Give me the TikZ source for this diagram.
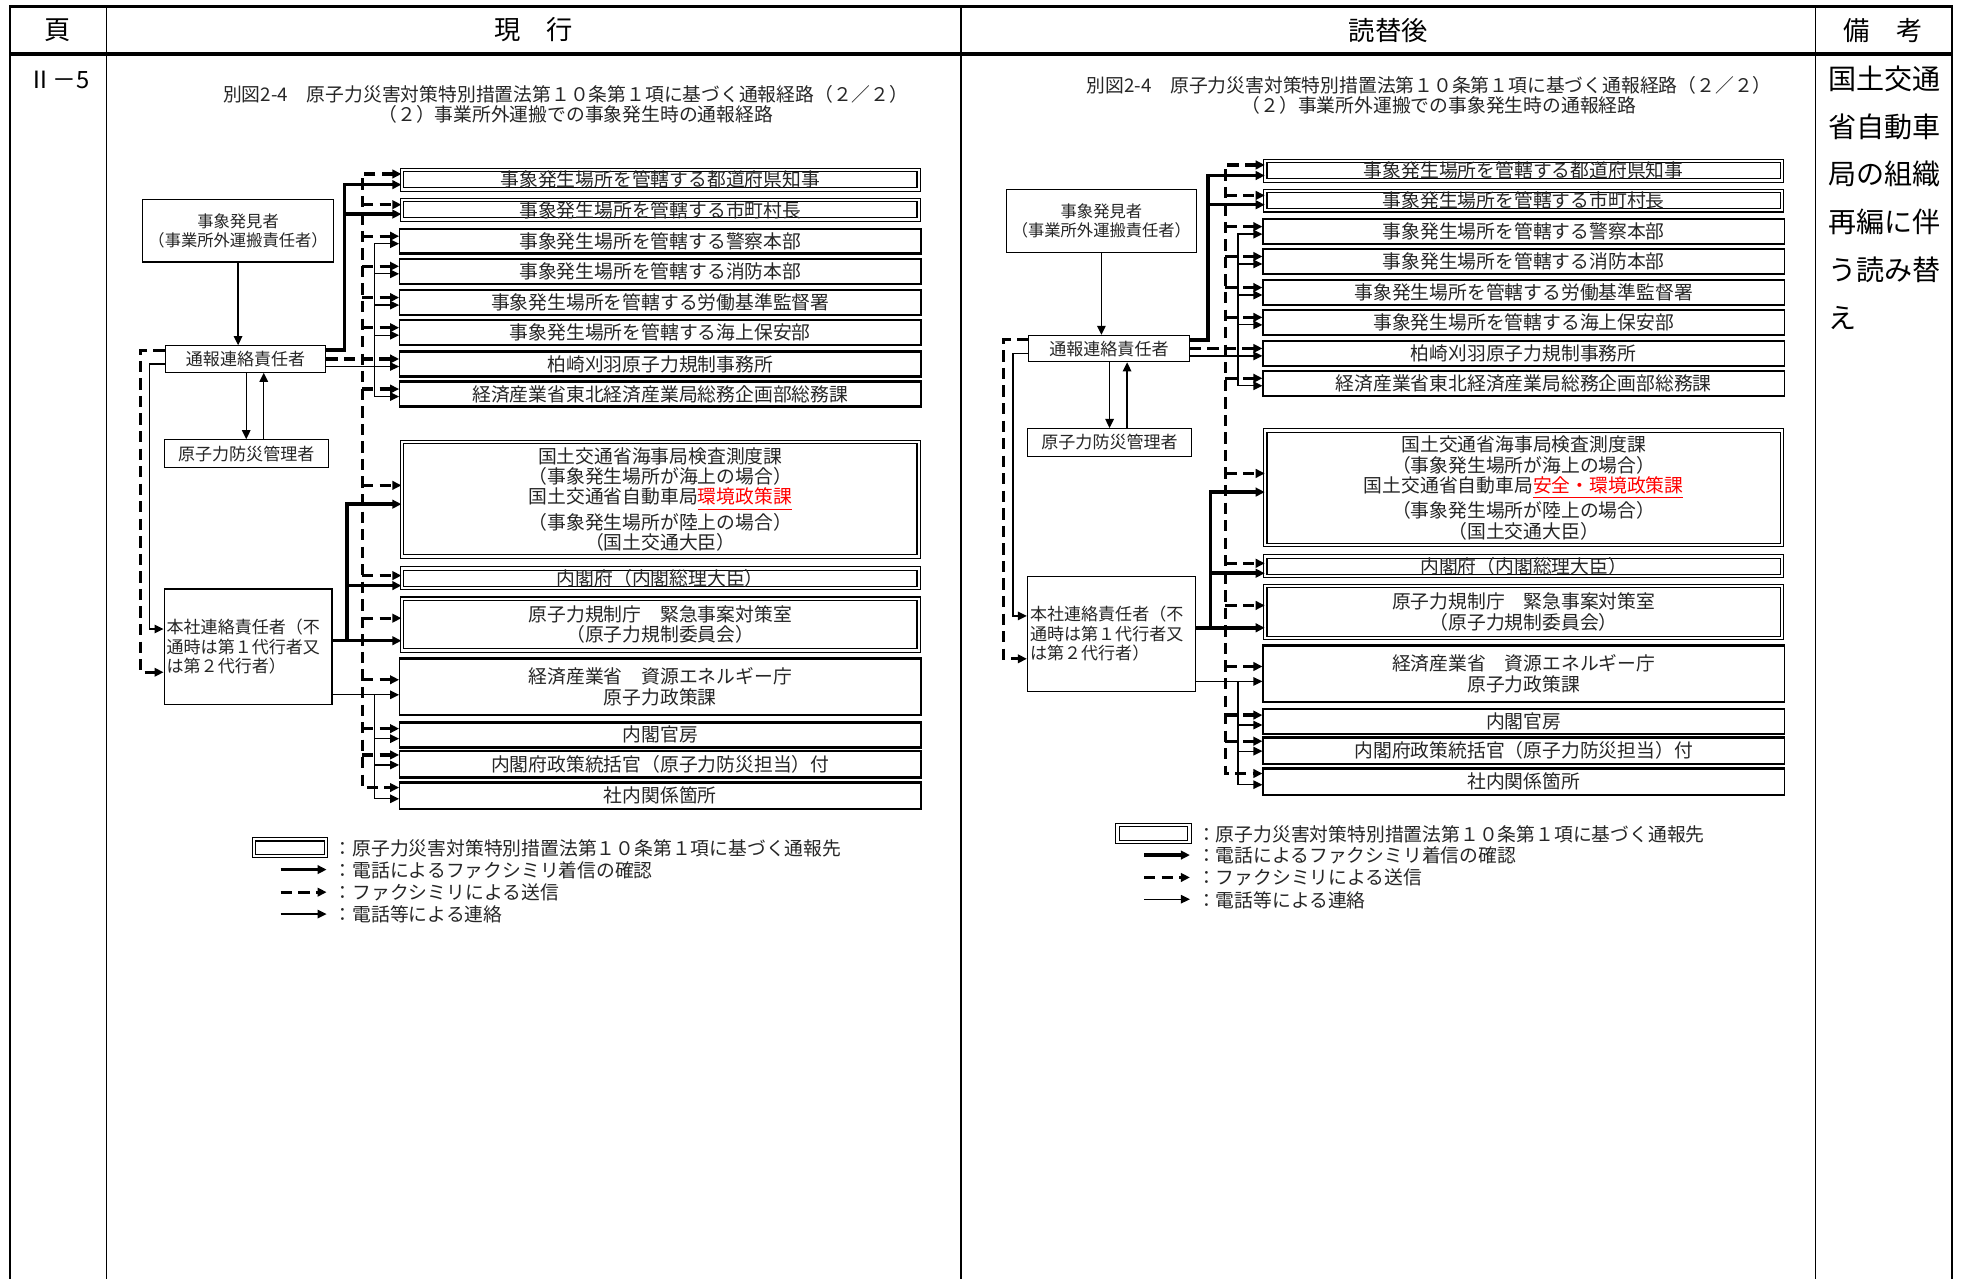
\documentclass[tikz,border=0pt]{standalone}
\usepackage{fontspec}
\newfontfamily\jpf{Noto Sans CJK JP}
\usetikzlibrary{arrows.meta,calc}
\newcommand{\unitD}{0.5pt}
\tikzset{
  >={Triangle[length=3.6pt,width=3.4pt]},
  bxfont/.style={font=\jpf\fontsize{7.5pt}{8.15pt}\selectfont},
  sbox/.style={draw, line width=0.5pt, minimum width=416*\unitD, inner sep=0pt, align=center, text=black!85, bxfont},
  dbox/.style={draw, double, double distance=0.9pt, line width=0.45pt, minimum width=412.4*\unitD, inner sep=0pt, align=center, text=black!85, bxfont},
  lbox/.style={draw, line width=0.5pt, inner sep=0pt, align=center, text=black!85, font=\jpf\fontsize{6.8pt}{7.75pt}\selectfont},
  ttl/.style={inner sep=0pt, text=black!85, font=\jpf\fontsize{7.5pt}{8pt}\selectfont},
  lgtext/.style={inner sep=0pt, anchor=west, text=black!85, font=\jpf\fontsize{7.5pt}{8pt}\selectfont},
  thk/.style={line width=1.4pt},
  dsh/.style={line width=1.3pt, dash pattern=on 4.5pt off 2.5pt},
  thn/.style={line width=0.5pt},
  hdr/.style={inner sep=0pt, font=\jpf\fontsize{10.5pt}{12pt}\selectfont},
}
\newcommand{\sbx}[4]{%
  \node[sbox, minimum height={(#3-#2)*\unitD}] (#1) at (527,{(#2+#3)/2}) {#4};
  \draw[line width=0.9pt] (#1.north west) -- (#1.north east) (#1.south west) -- (#1.south east);}
\newcommand{\dbx}[4]{%
  \node[dbox, minimum height={(#3-#2-3.6)*\unitD}] (#1) at (527,{(#2+#3)/2}) {#4};}
\newcommand{\apt}[3]{\coordinate (#1) at ($(#2)+(0,#3)$);}
\newcommand{\flowdiagram}[2]{%
  \node[ttl] (#1ttlA) at (451.5,75) {別図2-4　原子力災害対策特別措置法第１０条第１項に基づく通報経路（２／２）};
  \node[ttl] (#1ttlB) at (459.5,91) {（２）事業所外運搬での事象発生時の通報経路};
  \dbx{#1b1}{134}{153}{事象発生場所を管轄する都道府県知事}
  \dbx{#1b2}{158}{177}{事象発生場所を管轄する市町村長}
  \sbx{#1b3}{183}{202}{事象発生場所を管轄する警察本部}
  \sbx{#1b4}{207}{226}{事象発生場所を管轄する消防本部}
  \sbx{#1b5}{232}{251}{事象発生場所を管轄する労働基準監督署}
  \sbx{#1b6}{256}{275}{事象発生場所を管轄する海上保安部}
  \sbx{#1b7}{281}{300}{柏崎刈羽原子力規制事務所}
  \sbx{#1b8}{305}{324}{経済産業省東北経済産業局総務企画部総務課}
  \dbx{#1b9}{351}{446}{国土交通省海事局検査測度課\\（事象発生場所が海上の場合）\\国土交通省自動車局\textcolor{red}{\underline{#2}}\\（事象発生場所が陸上の場合）\\（国土交通大臣）}
  \dbx{#1b10}{452}{471}{内閣府（内閣総理大臣）}
  \dbx{#1b11}{476}{521}{原子力規制庁　緊急事案対策室\\（原子力規制委員会）}
  \sbx{#1b12}{526}{570}{経済産業省　資源エネルギー庁\\原子力政策課}
  \sbx{#1b13}{577}{596}{内閣官房}
  \sbx{#1b14}{600}{620}{内閣府政策統括官（原子力防災担当）付}
  \sbx{#1b15}{625}{645}{社内関係箇所}
  % left nodes
  \node[lbox, minimum width=152*\unitD, minimum height=50*\unitD, font=\jpf\fontsize{6.5pt}{7.5pt}\selectfont] (#1hak) at (190,184) {事象発見者\\（事業所外運搬責任者）};
  \node[lbox, minimum width=128*\unitD, minimum height=21*\unitD] (#1tsu) at (196,286.5) {通報連絡責任者};
  \node[lbox, minimum width=131*\unitD, minimum height=22*\unitD] (#1bou) at (196.5,362) {原子力防災管理者};
  \node[lbox, minimum width=134*\unitD, minimum height=92*\unitD, text width=130*\unitD, align=left] (#1hon) at (198,516) {本社連絡責任者（不\\通時は第１代行者又\\は第２代行者）};
  % left connectors
  \draw[thn,->] (#1hak.south) -- (#1hak.south |- #1tsu.north);
  \draw[thn,->] (#1bou.north |- #1tsu.south) -- (#1bou.north);
  \coordinate (#1bup) at ($(#1bou.north)+(14,0)$);
  \draw[thn,->] (#1bup) -- (#1bup |- #1tsu.south);
  \coordinate (#1xla) at (112,0);
  \coordinate (#1xlb) at (119.5,0);
  \apt{#1tlD}{#1tsu.north west}{4}
  \apt{#1tlT}{#1tsu.north west}{15}
  \apt{#1hnT}{#1hon.north west}{32.5}
  \apt{#1hnD}{#1hon.north west}{67}
  \draw[dsh,->] (#1tlD) -| (#1xla |- #1hnD) -- (#1hnD);
  \draw[thn,->] (#1tlT) -| (#1xlb |- #1hnT) -- (#1hnT);
  % arrow points on boxes
  \coordinate (#1xk) at (275,0);
  \coordinate (#1xkb) at (277,0);
  \coordinate (#1xd) at (289,0);
  \coordinate (#1xt) at (299,0);
  \apt{#1d1}{#1b1.north west}{3.5} \apt{#1k1}{#1b1.north west}{12}
  \apt{#1d2}{#1b2.north west}{4} \apt{#1k2}{#1b2.north west}{11.5}
  \foreach \i in {3,...,8}{\apt{#1d\i}{#1b\i.north west}{6}\apt{#1t\i}{#1b\i.north west}{12}}
  \apt{#1d9}{#1b9.north west}{35} \apt{#1k9}{#1b9.north west}{50}
  \apt{#1d10}{#1b10.north west}{6} \apt{#1k10}{#1b10.north west}{14}
  \apt{#1d11}{#1b11.north west}{16} \apt{#1k11}{#1b11.north west}{34}
  \apt{#1d12}{#1b12.north west}{17} \apt{#1t12}{#1b12.north west}{29}
  \apt{#1d13}{#1b13.north west}{5} \apt{#1t13}{#1b13.north west}{13}
  \apt{#1d14}{#1b14.north west}{3} \apt{#1t14}{#1b14.north west}{11}
  \apt{#1d15}{#1b15.north west}{4} \apt{#1t15}{#1b15.north west}{13}
  % from 通報連絡責任者
  \apt{#1teK}{#1tsu.north east}{4}
  \draw[thk,->] (#1teK) -| (#1xk |- #1k1) -- (#1k1);
  \draw[thk,->] (#1xk |- #1k2) -- (#1k2);
  \draw[dsh,<->] (#1d1) -| (#1xd |- #1d15) -- (#1d15);
  \foreach \i in {2,3,4,5,6,8,9,10,11,12,13,14}{\draw[dsh,->] (#1xd |- #1d\i) -- (#1d\i);}
  \draw[dsh,->] (#1tsu.east |- #1d7) -- (#1d7);
  \draw[thn,<->] (#1t3) -| (#1xt |- #1t8) -- (#1t8);
  \foreach \i in {4,5,6}{\draw[thn,->] (#1xt |- #1t\i) -- (#1t\i);}
  \draw[thn,->] (#1tsu.east |- #1t7) -- (#1t7);
  % from 本社連絡責任者
  \draw[thk,<-] (#1k9) -| (#1xkb |- #1k11);
  \draw[thk,->] (#1xkb |- #1k10) -- (#1k10);
  \draw[thk,->] (#1hon.east |- #1k11) -- (#1k11);
  \draw[thn,->] (#1hon.east |- #1t12) -- (#1t12);
  \draw[thn,->] (#1xt |- #1t12) |- (#1t15);
  \foreach \i in {13,14}{\draw[thn,->] (#1xt |- #1t\i) -- (#1t\i);}
  % legend
  \node[draw, double, double distance=0.9pt, line width=0.45pt, minimum width=57.4*\unitD, minimum height=13.4*\unitD, inner sep=0pt] (#1lgb) at (231.5,676.5) {};
  \node[lgtext] (#1lgA) at (266,677) {：原子力災害対策特別措置法第１０条第１項に基づく通報先};
  \node[lgtext] (#1lgB) at (266,694.5) {：電話によるファクシミリ着信の確認};
  \node[lgtext] (#1lgC) at (266,712) {：ファクシミリによる送信};
  \node[lgtext] (#1lgD) at (266,730) {：電話等による連絡};
  \coordinate (#1laB) at (224,694);
  \coordinate (#1laC) at (224,712);
  \coordinate (#1laD) at (224,729.5);
  \draw[thk,->] (#1laB) -- (#1laB -| #1lgb.east);
  \draw[dsh,->] (#1laC) -- (#1laC -| #1lgb.east);
  \draw[thn,->] (#1laD) -- (#1laD -| #1lgb.east);
}
\begin{document}
\begin{tikzpicture}[x=0.5pt,y=-0.5pt]
\useasboundingbox (0,0) rectangle (1565,1020.7);
\fill[white] (0,0) rectangle (1565,1020.7);
% table
\draw[line width=1.3pt] (7.5,5) -- (1558.5,5);
\draw[line width=1.3pt] (7.5,43) -- (1558.5,43);
\draw[line width=1pt] (8,5) -- (8,1021);
\draw[line width=1pt] (1558,5) -- (1558,1021);
\draw[line width=0.6pt] (85,5) -- (85,1021);
\draw[line width=0.6pt] (767,5) -- (767,1021);
\draw[line width=0.6pt] (1449,5) -- (1449,1021);
\node[hdr] (hpage) at (46,24) {頁};
\node[hdr] (hcur) at (426,24) {現　行};
\node[hdr] (hnew) at (1108,24) {読替後};
\node[hdr] (hrem) at (1503,24) {備　考};
\node[inner sep=0pt, font=\jpf\fontsize{9.5pt}{10pt}\selectfont] (pgno) at (47,64) {Ⅱ－5};
\node[anchor=north west, align=left, inner sep=0pt, font=\jpf\fontsize{11.2pt}{19.1pt}\selectfont] (rmk) at (1459,52) {国土交通\\省自動車\\局の組織\\再編に伴\\う読み替\\え};
% diagrams
\flowdiagram{L}{環境政策課}
\begin{scope}[shift={(689,-6)}, yscale=0.992]
\flowdiagram{R}{安全・環境政策課}
\end{scope}
\end{tikzpicture}
\end{document}
